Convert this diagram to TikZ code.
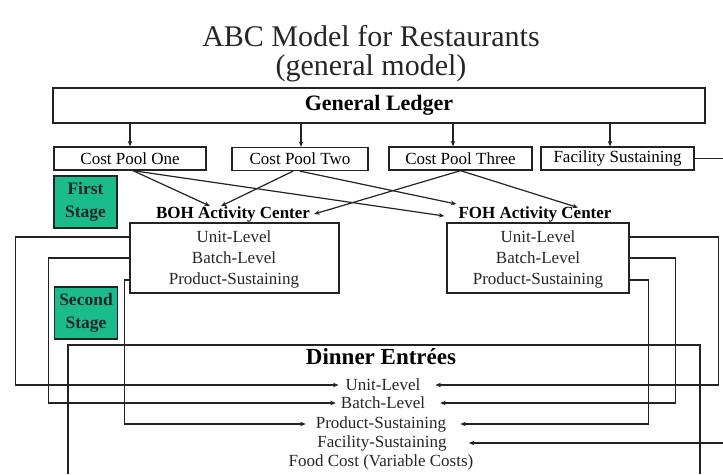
\documentclass[tikz,border=0pt]{standalone}
\usepackage{fontspec}
\setmainfont{Liberation Serif}
\usetikzlibrary{arrows.meta}
\definecolor{stagegreen}{RGB}{26,188,140}
\definecolor{lineblk}{RGB}{35,35,35}
\begin{document}
\begin{tikzpicture}[x=1pt,y=-1pt,
  box/.style={draw=lineblk,line width=1.3pt,inner sep=0pt,minimum height=23pt,font=\fontsize{17}{20}\selectfont},
  stagebox/.style={draw=lineblk,line width=1.3pt,fill=stagegreen,inner sep=0pt,minimum width=63pt,minimum height=52pt,align=center,font=\bfseries\fontsize{17.5}{23}\selectfont,text=black!85},
  itm/.style={inner sep=0pt,font=\fontsize{17}{20}\selectfont,text=black!85},
  ttl/.style={inner sep=0pt,font=\bfseries\fontsize{17}{20}\selectfont},
  conn/.style={draw=lineblk,line width=1.2pt},
  arr/.style={conn,-{Stealth[length=5.5pt,width=4.5pt]}},
]
\useasboundingbox (0,0) rectangle (723,474);

% title
\node[inner sep=0pt,align=center,font=\fontsize{30}{28.5}\selectfont,text=black!85] (t1) at (371,53.5) {ABC Model for Restaurants\\(general model)};

% general ledger and pools
\node[box,minimum width=652pt,minimum height=35pt,font=\bfseries\fontsize{22}{26}\selectfont] (gl) at (379,105.5) {General Ledger};
\node[box,minimum width=152pt] (cp1) at (130,158.5) {Cost Pool One};
\node[box,minimum width=136pt] (cp2) at (300,159) {Cost Pool Two};
\node[box,minimum width=143pt] (cp3) at (460.5,158.5) {Cost Pool Three};
\node[box,minimum width=153pt] (fs) at (617.5,158.5) {Facility Sustaining};

\coordinate (a1) at (cp1.north);
\coordinate (a2) at ([xshift=1pt]cp2.north);
\coordinate (a3) at ([xshift=-7.5pt]cp3.north);
\coordinate (a4) at ([xshift=-7.5pt]fs.north);
\foreach \a in {a1,a2,a3,a4} \draw[arr] (\a |- gl.south) -- (\a);

\coordinate (fsR) at (723,158.5);
\draw[conn] (fs.east) -- (fsR);

% stage labels
\node[stagebox] (st1) at (85.5,202) {First\\Stage};
\node[stagebox] (st2) at (86,313) {Second\\Stage};

% activity centers
\node[box,minimum width=209pt,minimum height=70pt] (boh) at (234.5,258) {};
\node[itm] (bu) at (234,237) {Unit-Level};
\node[itm] (bb) at (234,258) {Batch-Level};
\node[itm] (bp) at (234,280) {Product-Sustaining};
\node[ttl] (bt) at (233,214) {BOH Activity Center};

\node[box,minimum width=182pt,minimum height=70pt] (foh) at (538,258) {};
\node[itm] (fu) at (538,237) {Unit-Level};
\node[itm] (fb) at (538,258) {Batch-Level};
\node[itm] (fp) at (538,280) {Product-Sustaining};
\node[ttl] (ft) at (535,214) {FOH Activity Center};

% first stage arrows
\coordinate (c1s) at ([xshift=3pt]cp1.south);
\coordinate (c2a) at ([xshift=-7pt]cp2.south);
\coordinate (c2b) at (cp2.south);
\coordinate (c3s) at (cp3.south);
\draw[arr] (c1s) -- ([xshift=-23pt]bt.north);
\draw[arr] (c2a) -- ([xshift=-12pt]bt.north);
\draw[arr] (c3s) -- ([xshift=4pt]bt.east);
\draw[arr] (c1s) -- ([xshift=-14pt,yshift=-2pt]ft.west);
\draw[arr] (c2b) -- ([xshift=-2pt,yshift=2pt]ft.north west);
\draw[arr] (c3s) -- ([xshift=43pt,yshift=-1.5pt]ft.north);

% dinner entrees
\draw[conn] (68,474) -- (68,345) -- (700,345) -- (700,474);
\node[inner sep=0pt,font=\bfseries\fontsize{23}{27}\selectfont] (dt) at (381,357) {Dinner Entrées};
\node[itm] (du) at (383,385) {Unit-Level};
\node[itm] (db) at (383,403) {Batch-Level};
\node[itm] (dp) at (381,424) {Product-Sustaining};
\node[itm] (dfs) at (382,443) {Facility-Sustaining};
\node[itm] (dfc) at (381,462) {Food Cost (Variable Costs)};

% second stage arrows
\draw[arr] (boh.west |- bu) -- ++(-114,0) |- ([xshift=-7pt]du.west);
\draw[arr] (boh.west |- bb) -- ++(-81,0) |- ([xshift=-5pt]db.west);
\draw[arr] (boh.west |- bp) -- ++(-5,0) |- ([xshift=-10pt]dp.west);

\draw[arr] (foh.east |- fu) -- ++(89,0) |- ([xshift=15pt]du.east);
\draw[arr] (foh.east |- fb) -- ++(46,0) |- ([xshift=15pt]db.east);
\draw[arr] (foh.east |- fp) -- ++(19,0) |- ([xshift=14pt]dp.east);
\coordinate (fsB) at (723,443);
\draw[arr] (fsB) -- ([xshift=22pt]dfs.east);
\end{tikzpicture}
\end{document}
